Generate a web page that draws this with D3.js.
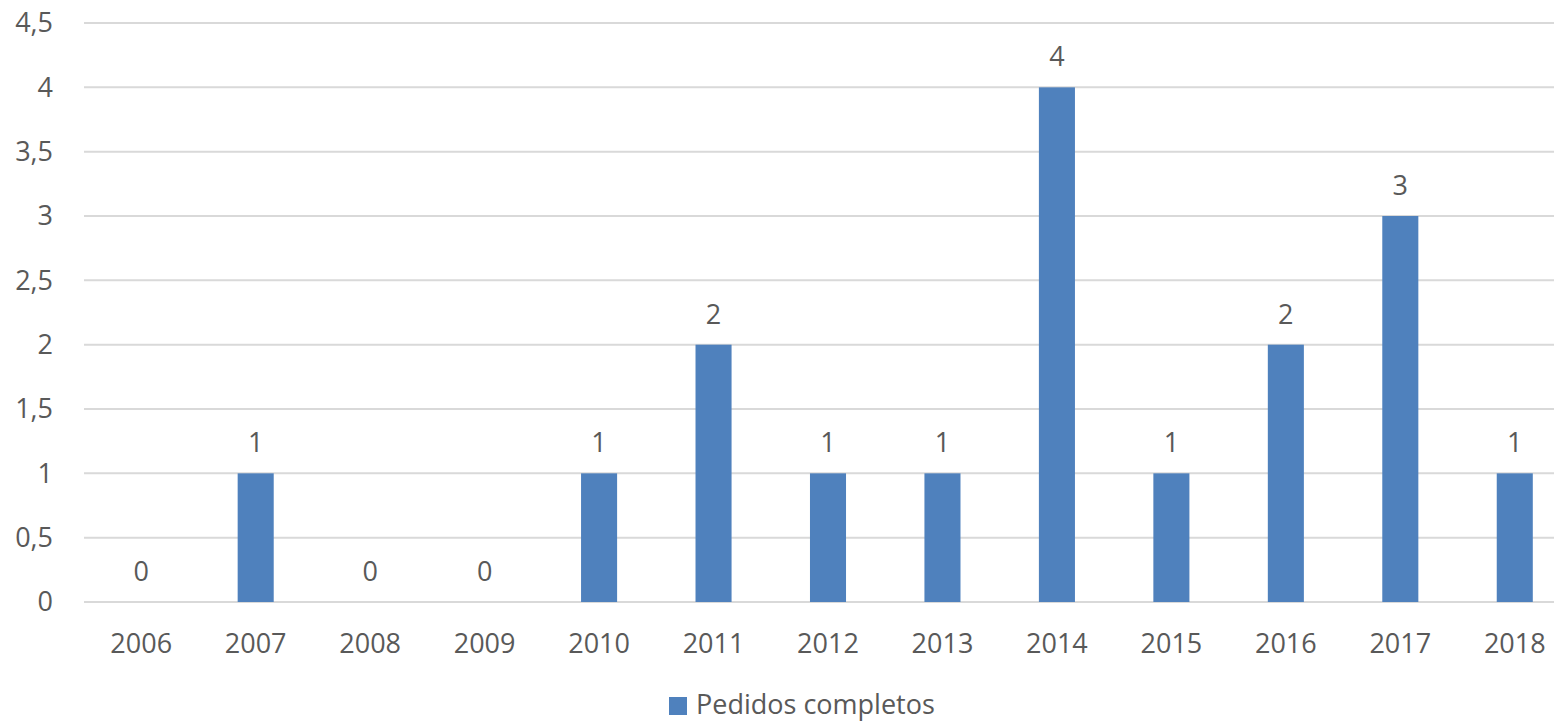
<!DOCTYPE html>
<html>
<head>
    <meta charset='utf-8'>
    <title>Pedidos completos</title>
    <style type="text/css">
        body { margin: 0; background: #fff; }
        text { font-family: "Open Sans", sans-serif; fill: #595959; font-size: 27px; }
        .grid line { stroke: #d9d9d9; stroke-width: 2; }
    </style>
</head>
<body>
    <script src="https://cdn.jsdelivr.net/npm/d3@7"></script>

    <div id="svgContainer"></div>

    <script type="text/javascript">

        const years = ["2006", "2007", "2008", "2009", "2010", "2011", "2012",
                       "2013", "2014", "2015", "2016", "2017", "2018"];
        const pedidos = [0, 1, 0, 0, 1, 2, 1, 1, 4, 1, 2, 3, 1];
        const yTicks = [0, 0.5, 1, 1.5, 2, 2.5, 3, 3.5, 4, 4.5];
        const seriesName = "Pedidos completos";

        const width = 1554;
        const height = 721;
        const margin = { left: 84, right: -18, top: 23, bottom: 119 };

        const svg = d3.select("#svgContainer").append("svg")
            .attr("width", width)
            .attr("height", height);

        const x = d3.scaleBand()
            .domain(years)
            .range([margin.left, width - margin.right])
            .paddingInner(0.685)
            .paddingOuter(0.3425);

        const y = d3.scaleLinear()
            .domain([0, 4.5])
            .range([height - margin.bottom, margin.top]);

        const fmt = v => String(v).replace(".", ",");

        // gridlines
        svg.append("g")
            .attr("class", "grid")
            .selectAll("line")
            .data(yTicks)
            .join("line")
            .attr("x1", margin.left)
            .attr("x2", width)
            .attr("y1", d => y(d))
            .attr("y2", d => y(d));

        // y labels
        svg.append("g")
            .selectAll("text")
            .data(yTicks)
            .join("text")
            .attr("x", 53)
            .attr("y", d => y(d))
            .attr("dy", "0.35em")
            .attr("text-anchor", "end")
            .text(fmt);

        // bars
        svg.append("g")
            .selectAll("rect")
            .data(pedidos)
            .join("rect")
            .attr("x", (d, i) => x(years[i]))
            .attr("width", x.bandwidth())
            .attr("y", d => y(d))
            .attr("height", d => y(0) - y(d))
            .attr("fill", "#4f81bd");

        // value labels
        svg.append("g")
            .selectAll("text")
            .data(pedidos)
            .join("text")
            .attr("x", (d, i) => x(years[i]) + x.bandwidth() / 2)
            .attr("y", d => y(d) - 21)
            .attr("text-anchor", "middle")
            .text(d => d);

        // x labels
        svg.append("g")
            .selectAll("text")
            .data(years)
            .join("text")
            .attr("x", d => x(d) + x.bandwidth() / 2)
            .attr("y", 653)
            .attr("text-anchor", "middle")
            .text(d => d);

        // legend
        const legend = svg.append("g");
        legend.append("rect")
            .attr("x", 669)
            .attr("y", 697)
            .attr("width", 18)
            .attr("height", 18)
            .attr("fill", "#4f81bd");
        legend.append("text")
            .attr("x", 696)
            .attr("y", 714)
            .text(seriesName);

    </script>
</body>
</html>
